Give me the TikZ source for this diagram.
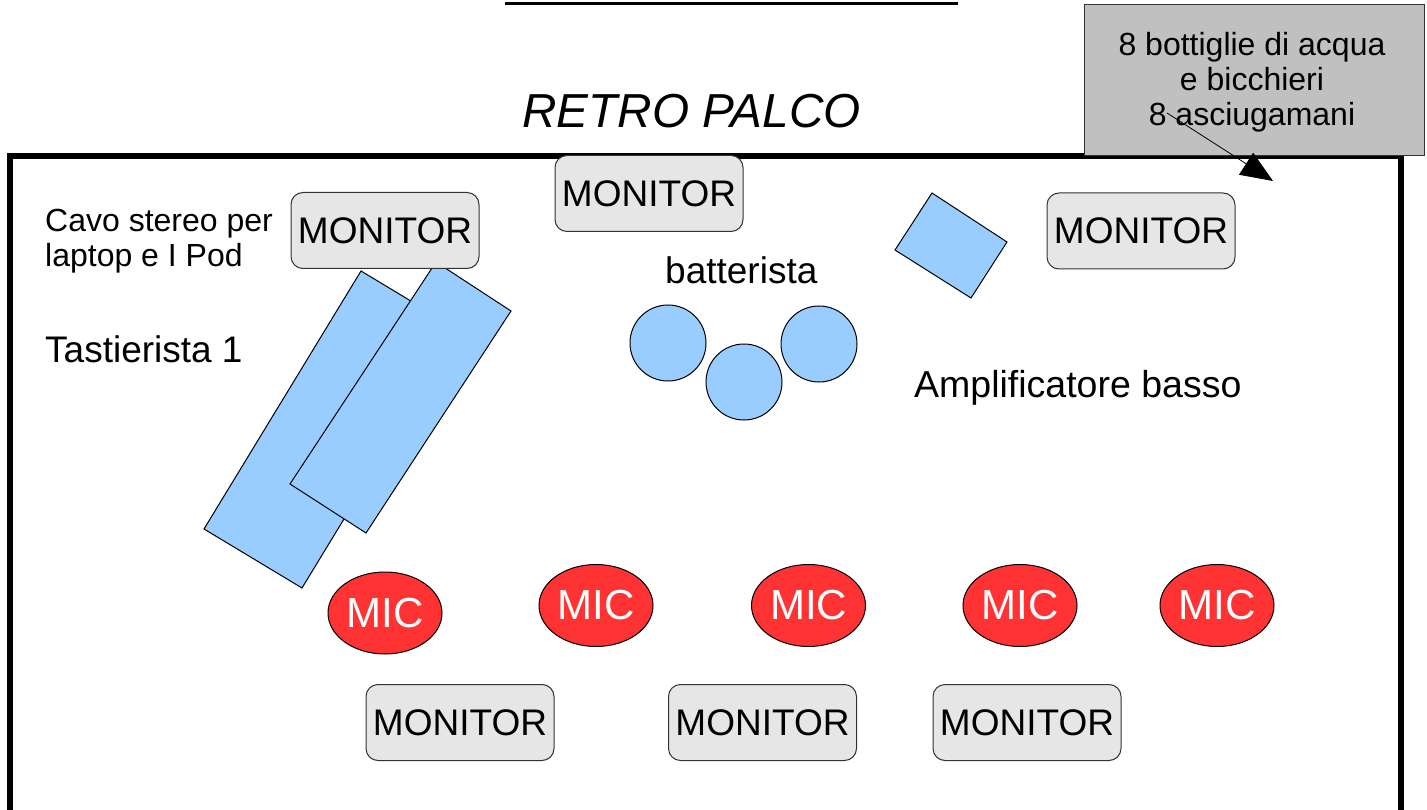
\documentclass[tikz,border=0pt]{standalone}
\usepackage{fontspec}
\setmainfont{Liberation Sans}
\usetikzlibrary{arrows.meta,shapes.geometric}
\definecolor{blu}{HTML}{99CCFF}
\definecolor{micred}{HTML}{FF3333}
\definecolor{mongray}{HTML}{E6E6E6}
\definecolor{boxgray}{HTML}{C0C0C0}
\definecolor{edgecol}{HTML}{333333}
\begin{document}
\begin{tikzpicture}[x=1pt,y=-1pt,
  monitor/.style={draw=edgecol, line width=1pt, fill=mongray, rounded corners=12pt,
    minimum width=188pt, minimum height=76pt, inner sep=0pt, font=\fontsize{37}{44}\selectfont},
  mic/.style={ellipse, draw=black, line width=1pt, fill=micred, minimum width=114pt,
    minimum height=82pt, inner sep=0pt, text=white, font=\fontsize{42}{50}\selectfont},
  drum/.style={circle, draw=black, line width=1pt, fill=blu, minimum size=76pt, inner sep=0pt},
  part/.style={draw=black, fill=blu, line width=1pt, line join=miter},
  lbl/.style={inner sep=0pt, anchor=base west, font=\fontsize{37.5}{44}\selectfont}]
\useasboundingbox (0,0) rectangle (1427,810);
\clip (0,0) rectangle (1427,810);
\fill[white] (0,0) rectangle (1427,810);

% top line and stage frame
\coordinate (tl1) at (505,4);
\coordinate (tl2) at (958,4);
\draw[line width=3pt] (tl1) -- (tl2);
\coordinate (f1) at (10,850);
\coordinate (f2) at (10,156);
\coordinate (f3) at (1401,156);
\coordinate (f4) at (1401,850);
\draw[line width=6.5pt, line join=miter] (f1) -- (f2) -- (f3) -- (f4);

% keyboards
\draw[part] (361,271) -- (459,330) -- (302,588) -- (204,529) -- cycle;
\draw[part] (436,262) -- (511,311) -- (366,533) -- (290,484) -- cycle;

% bass amplifier
\draw[part] (932,193) -- (1007,242) -- (971,298) -- (895,250) -- cycle;

% drums
\node[drum] (d1) at (668,343) {};
\node[drum] (d2) at (744,382) {};
\node[drum] (d3) at (819,344) {};

% monitors
\node[monitor] (m1) at (385,230.5) {MONITOR};
\node[monitor] (m2) at (649,193.5) {MONITOR};
\node[monitor] (m3) at (1141,231) {MONITOR};
\node[monitor] (m4) at (460,722.5) {MONITOR};
\node[monitor] (m5) at (762.5,722.5) {MONITOR};
\node[monitor] (m6) at (1027,722.5) {MONITOR};

% mics
\node[mic] (c1) at (385,613) {MIC};
\node[mic] (c2) at (596,605.5) {MIC};
\node[mic] (c3) at (808.5,605.5) {MIC};
\node[mic] (c4) at (1020,605.5) {MIC};
\node[mic] (c5) at (1217,605.5) {MIC};

% labels
\node[inner sep=0pt, anchor=base west, font=\fontsize{47.7}{56}\selectfont\itshape] (retro) at (522,128) {RETRO PALCO};
\node[inner sep=0pt, anchor=base west, font=\fontsize{32}{35}\selectfont] (cavo1) at (45,232) {Cavo stereo per};
\node[inner sep=0pt, anchor=base west, font=\fontsize{32}{35}\selectfont] (cavo2) at (45,267) {laptop e I Pod};
\node[lbl, font=\fontsize{37}{44}\selectfont] (tast) at (45,362) {Tastierista 1};
\node[lbl, font=\fontsize{37}{44}\selectfont] (batt) at (665,284) {batterista};
\node[lbl] (ampl) at (914,397.5) {Amplificatore basso};

% gray box with note
\node[draw=edgecol, line width=1pt, fill=boxgray, minimum width=340pt, minimum height=151pt, inner sep=0pt] (note) at (1254,80) {};
\node[inner sep=0pt, align=center, font=\fontsize{32}{35}\selectfont] (notetext) at (1252,82) {8 bottiglie di acqua\\e bicchieri\\8 asciugamani};
\coordinate (as) at (1167,113);
\coordinate (ae) at (1273,181);
\draw[line width=0.8pt, -{Triangle[length=32pt,width=26pt]}] (as) -- (ae);
\end{tikzpicture}
\end{document}
